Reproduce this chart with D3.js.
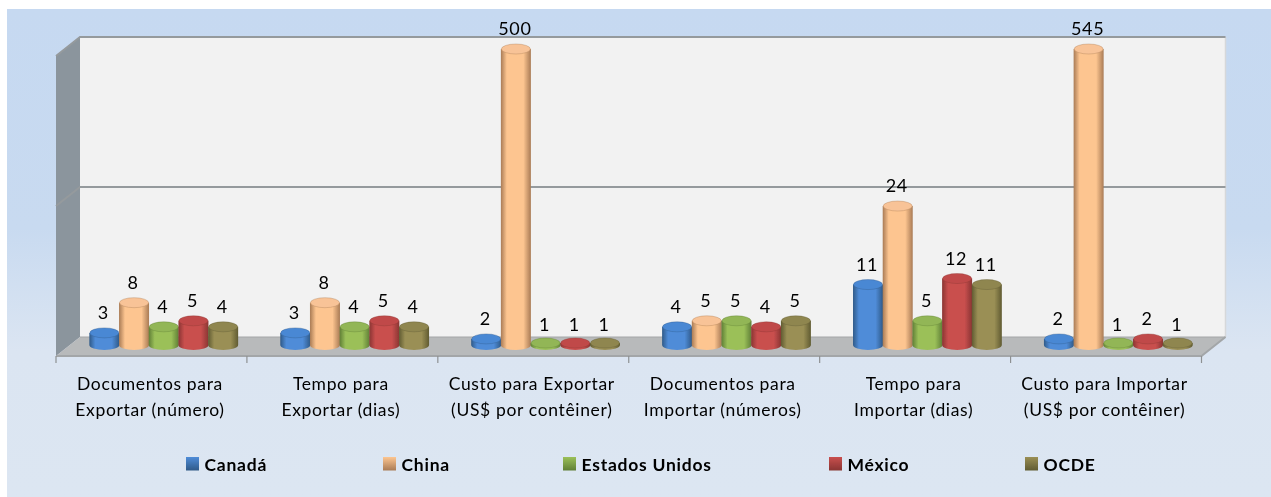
<!DOCTYPE html>
<html><head><meta charset="utf-8">
<script src="https://cdn.jsdelivr.net/npm/d3@7"></script>
<style>html,body{margin:0;padding:0;background:#fff}svg{display:block}text{font-family:Lato,sans-serif;fill:#000}</style>
</head><body><svg id="c" width="1271" height="497"></svg>
<script>
const categories=[["Documentos para","Exportar (número)"],["Tempo para","Exportar (dias)"],["Custo para Exportar","(US$ por contêiner)"],["Documentos para","Importar (números)"],["Tempo para","Importar (dias)"],["Custo para Importar","(US$ por contêiner)"]];
const seriesNames=["Canadá","China","Estados Unidos","México","OCDE"];
const canada=[3,3,2,4,11,2];
const china=[8,8,500,5,24,545];
const estadosUnidos=[4,4,1,5,5,1];
const mexico=[5,5,1,4,12,2];
const ocde=[4,4,1,5,11,1];
const seriesValues=[canada,china,estadosUnidos,mexico,ocde];
const gridTicks=[0,25,50];
const edgeColors=["#2f5a88","#a97b55","#5f7f36","#8a3533","#605b32"];
const midColors=["#4f8cd8","#fdc590","#9bc059","#c94f4e","#9a8f55"];
const topColors=["#4a88d4","#f8c397","#92b656","#c04a49","#8f8650"];
const legendX=[186,383,563,829,1025];

const svg=d3.select("#c"),W=1271,H=497;
const defs=svg.append("defs");
const bg=defs.append("linearGradient").attr("id","bg").attr("x1",0).attr("y1",0).attr("x2",0).attr("y2",1);
bg.append("stop").attr("offset",0).attr("stop-color","#c6d9f1");
bg.append("stop").attr("offset",.45).attr("stop-color","#c8daf0");
bg.append("stop").attr("offset",.7).attr("stop-color","#dbe5f2");
bg.append("stop").attr("offset",1).attr("stop-color","#dce6f2");
const flt=defs.append("filter").attr("id","soft");flt.append("feGaussianBlur").attr("stdDeviation",.5);
const tflt=defs.append("filter").attr("id","softText");tflt.append("feGaussianBlur").attr("stdDeviation",.3);
seriesNames.forEach((n,i)=>{
  const g=defs.append("linearGradient").attr("id","cyl"+i);
  g.append("stop").attr("offset",0).attr("stop-color",edgeColors[i]);
  g.append("stop").attr("offset",.2).attr("stop-color",midColors[i]);
  g.append("stop").attr("offset",.75).attr("stop-color",midColors[i]);
  g.append("stop").attr("offset",1).attr("stop-color",edgeColors[i]);
  const l=defs.append("linearGradient").attr("id","leg"+i).attr("x1",0).attr("y1",0).attr("x2",0).attr("y2",1);
  l.append("stop").attr("offset",0).attr("stop-color",midColors[i]);
  l.append("stop").attr("offset",1).attr("stop-color",edgeColors[i]);
});
svg.append("rect").attr("x",7).attr("y",9).attr("width",W-7).attr("height",H-9).attr("fill","url(#bg)");

const x0=d3.scaleBand().domain(d3.range(categories.length)).range([56,1201.5]);
const x1=d3.scaleBand().domain(d3.range(seriesNames.length)).range([33.5,182]);
const axisY=d3.scaleLinear().domain([0,50]).range([356,56]);
const barY=d3.scaleLinear().domain([0,50]).range([351,49]).clamp(true);
const dx=24,dy=-19,rx=15,ry=5;
const L=56,R=1201.5;

const p=svg.append("g").attr("filter","url(#soft)");
p.append("rect").attr("x",L+dx).attr("y",axisY(50)+dy).attr("width",R-L).attr("height",300).attr("fill","#f2f2f2");
p.append("path").attr("d",`M${L},${axisY(0)}L${L+dx},${axisY(0)+dy}V${axisY(50)+dy}L${L},${axisY(50)}Z`).attr("fill","#8b959d");
p.append("path").attr("d",`M${L},${axisY(0)}L${L+dx},${axisY(0)+dy}H${R+dx}L${R},${axisY(0)}Z`).attr("fill","#b8babb");
p.append("path").attr("d",`M${R+dx},${axisY(50)+dy}V${axisY(0)+dy}`).attr("stroke","#d6d8da").attr("stroke-width",1.5);
gridTicks.slice(1).forEach(t=>{
  p.append("path").attr("d",`M${L},${axisY(t)}L${L+dx},${axisY(t)+dy}H${R+dx}`).attr("fill","none").attr("stroke","#959a9d").attr("stroke-width",2);
});
p.append("path").attr("d",`M${L},${axisY(0)}H${R}L${R+dx},${axisY(0)+dy}`).attr("fill","none").attr("stroke","#a3a6a8").attr("stroke-width",2);
p.append("path").attr("d",`M${L+dx},${axisY(0)+dy}H${R+dx}`).attr("fill","none").attr("stroke","#a3a6a8").attr("stroke-width",1.2);
p.selectAll(".tick").data(d3.range(categories.length+1)).join("path")
 .attr("d",i=>{const x=i<categories.length?x0(i):R;return `M${x},${axisY(0)}v7`;}).attr("stroke","#8e9193").attr("stroke-width",1.2);
categories.forEach((c,ci)=>{
  seriesValues.forEach((vals,si)=>{
    const cx=x0(ci)+x1(si)+x1.bandwidth()/2, base=345, top=Math.min(barY(vals[ci]),base-2);
    const g=p.append("g");
    g.append("path").attr("d",`M${cx-rx},${top}V${base}A${rx},${ry} 0 0 0 ${cx+rx},${base}V${top}Z`).attr("fill",`url(#cyl${si})`);
    g.append("ellipse").attr("cx",cx).attr("cy",top).attr("rx",rx-.5).attr("ry",ry).attr("fill",topColors[si]).attr("stroke",edgeColors[si]).attr("stroke-opacity",.45).attr("stroke-width",.8);
  });
});
const t=svg.append("g").attr("filter","url(#softText)");
categories.forEach((c,ci)=>{
  seriesValues.forEach((vals,si)=>{
    const cx=x0(ci)+x1(si)+x1.bandwidth()/2;
    t.append("text").attr("x",cx-1).attr("y",barY(vals[ci])-20).attr("dy","0.35em").attr("text-anchor","middle").attr("font-size",18).attr("letter-spacing",.6).text(vals[ci]);
  });
  c.forEach((s,li)=>t.append("text").attr("x",x0(ci)+x0.bandwidth()/2-1.5).attr("y",390+li*25.5).attr("text-anchor","middle").attr("font-size",17.5).attr("letter-spacing",.65).text(s));
});
seriesNames.forEach((n,i)=>{
  svg.append("rect").attr("x",legendX[i]).attr("y",457).attr("width",13).attr("height",13.5).attr("fill",`url(#leg${i})`).attr("filter","url(#softText)");
  t.append("text").attr("x",legendX[i]+18.5).attr("y",470.5).attr("font-size",17.5).attr("font-weight",700).attr("letter-spacing",.75).text(n);
});
</script></body></html>
